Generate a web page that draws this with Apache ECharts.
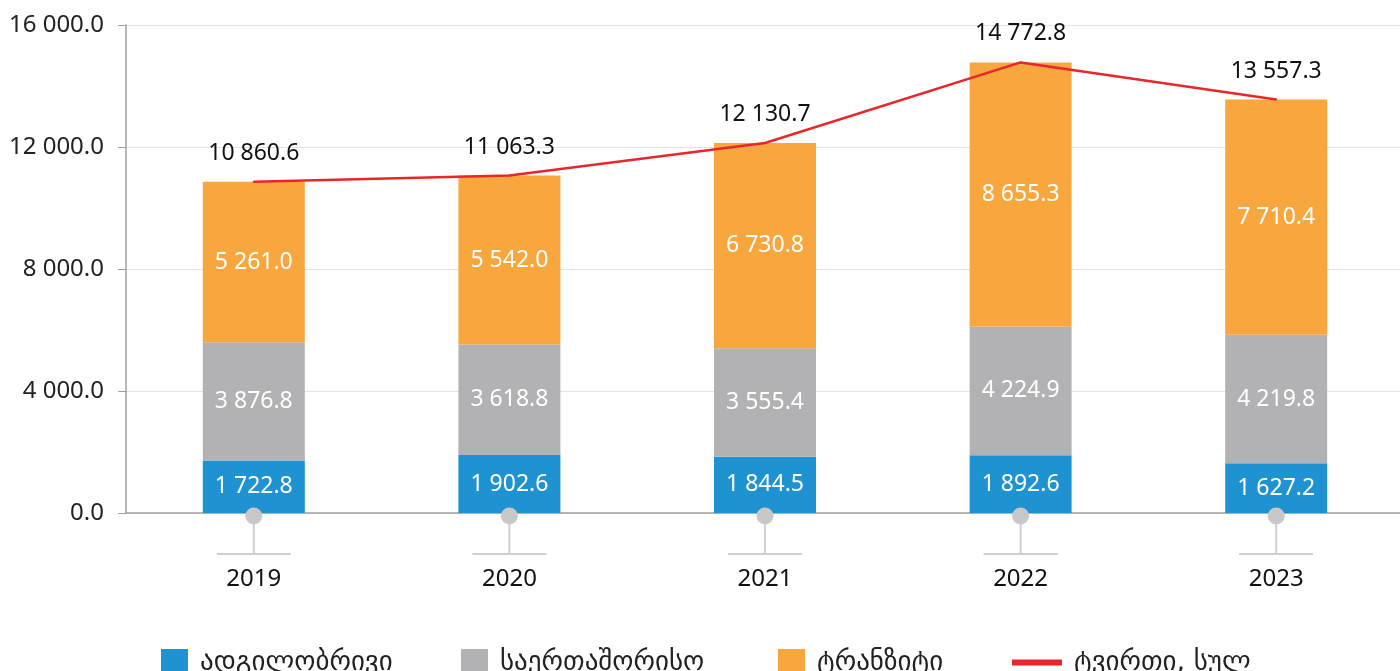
<!DOCTYPE html>
<html>
<head>
<meta charset="utf-8">
<script src="https://cdn.jsdelivr.net/npm/echarts@6/dist/echarts.min.js"></script>
<style>html,body{margin:0;padding:0;background:#fff;}#c{width:1400px;height:671px;}</style>
</head>
<body>
<div id="c"></div>
<script>
const categories = ['2019', '2020', '2021', '2022', '2023'];
const local = [1722.8, 1902.6, 1844.5, 1892.6, 1627.2];
const international = [3876.8, 3618.8, 3555.4, 4224.9, 4219.8];
const transit = [5261.0, 5542.0, 6730.8, 8655.3, 7710.4];
const total = [10860.6, 11063.3, 12130.7, 14772.8, 13557.3];
const seriesNames = ['ადგილობრივი', 'საერთაშორისო', 'ტრანზიტი', 'ტვირთი, სულ'];

function fmt(v) {
  const s = Number(v).toFixed(1);
  const parts = s.split('.');
  parts[0] = parts[0].replace(/\B(?=(\d{3})+(?!\d))/g, ' ');
  return parts.join('.');
}

const FONT = 'Noto Sans';
const GFONT = 'DejaVu Sans';
const colors = ['#1f93d2', '#b2b2b4', '#f8a73f', '#e8262b'];

const barLabel = {
  show: true, position: 'inside', color: '#fff', fontSize: 23, fontFamily: FONT,
  formatter: p => fmt(p.value)
};

function legendFor(i, left, isLine) {
  return {
    data: [{ name: seriesNames[i], icon: 'rect', itemStyle: { color: colors[i], opacity: 1 } }],
    left: left, top: 649, padding: 0, selectedMode: false,
    itemWidth: isLine ? 50 : 27, itemHeight: isLine ? 6 : 27,
    textStyle: { fontSize: 27, fontFamily: GFONT, color: '#222', padding: [0, 0, 0, 7] }
  };
}

const chart = echarts.init(document.getElementById('c'));
chart.setOption({
  animation: false,
  color: colors,
  grid: { left: 126, top: 25, right: -4, height: 488, containLabel: false, outerBoundsMode: 'none' },
  legend: [legendFor(0, 161), legendFor(1, 461), legendFor(2, 778), legendFor(3, 1012, true)],
  xAxis: {
    type: 'category', data: categories,
    axisLine: { lineStyle: { color: '#a0a0a0', width: 1.5 } },
    axisTick: { show: false },
    axisLabel: { margin: 54, fontSize: 24, color: '#111', fontFamily: FONT }
  },
  yAxis: {
    type: 'value', min: 0, max: 16000, interval: 4000,
    axisLine: { show: true, lineStyle: { color: '#a0a0a0', width: 1.5 } },
    axisTick: { show: true, length: 8, lineStyle: { color: '#a0a0a0' } },
    splitLine: { lineStyle: { color: '#e2e2e2', width: 1.2 } },
    axisLabel: { margin: 22, fontSize: 24, color: '#222', fontFamily: FONT, formatter: v => fmt(v) }
  },
  series: [
    { name: seriesNames[0], type: 'bar', stack: 't', barWidth: 102, data: local, label: barLabel, itemStyle: { color: colors[0] } },
    { name: seriesNames[1], type: 'bar', stack: 't', barWidth: 102, data: international, label: barLabel, itemStyle: { color: colors[1] } },
    { name: seriesNames[2], type: 'bar', stack: 't', barWidth: 102, data: transit, label: barLabel, itemStyle: { color: colors[2] } },
    {
      name: seriesNames[3], type: 'line', data: total, symbol: 'circle', symbolSize: 2, showSymbol: true, showAllSymbol: true,
      lineStyle: { color: colors[3], width: 2.5 }, itemStyle: { color: colors[3] }, z: 5,
      label: { show: true, position: 'top', distance: 16, color: '#111', fontSize: 23, fontFamily: FONT, formatter: p => fmt(p.value) }
    },
    {
      type: 'custom', silent: true, clip: false, z: 6,
      data: categories.map((c, i) => [i, 0]),
      renderItem: function (params, api) {
        const p = api.coord([api.value(0), 0]);
        const x = p[0], y = p[1];
        return {
          type: 'group',
          children: [
            { type: 'line', shape: { x1: x, y1: y + 10, x2: x, y2: y + 41 }, style: { stroke: '#cfcfcf', lineWidth: 2 } },
            { type: 'line', shape: { x1: x - 37, y1: y + 41, x2: x + 37, y2: y + 41 }, style: { stroke: '#cfcfcf', lineWidth: 2 } },
            { type: 'circle', shape: { cx: x, cy: y + 3, r: 8.5 }, style: { fill: '#c8c8ca' } }
          ]
        };
      }
    }
  ]
});
</script>
</body>
</html>
